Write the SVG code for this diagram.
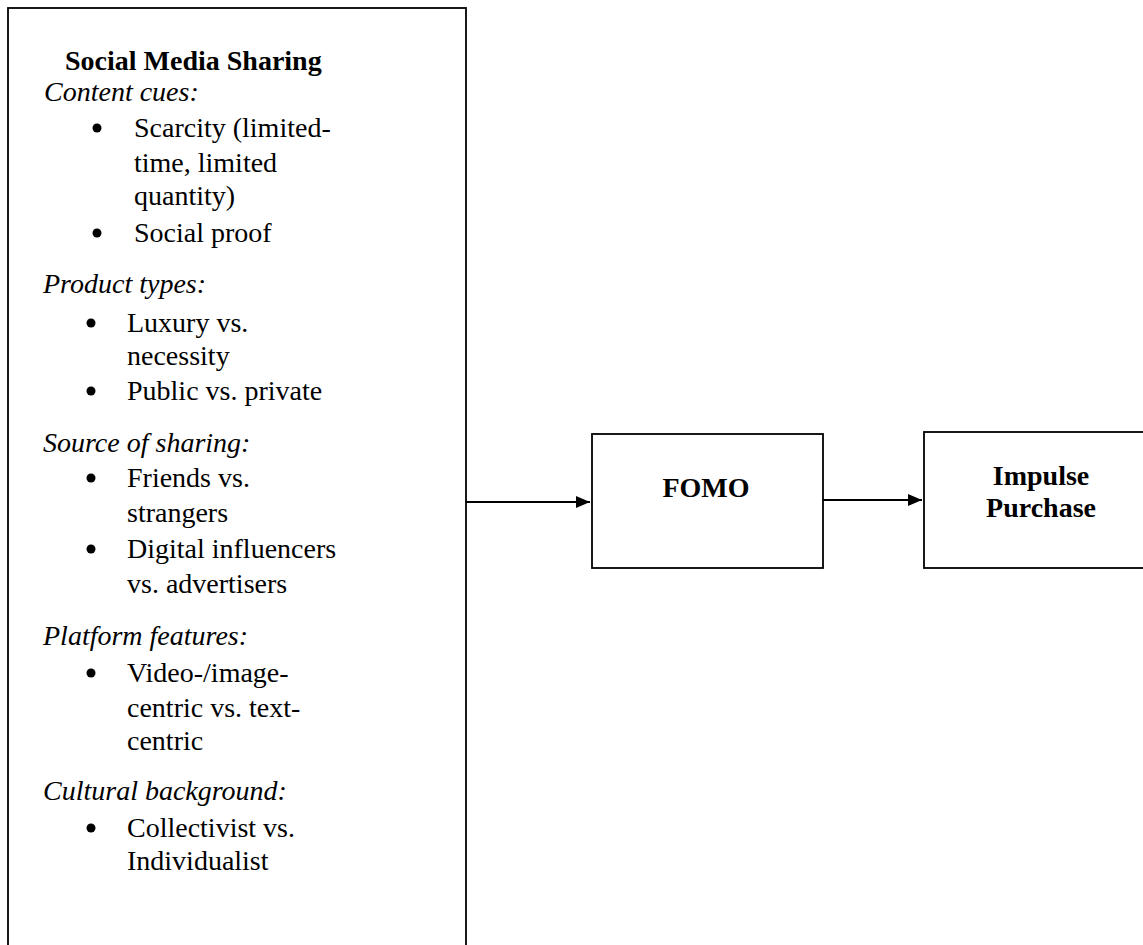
<svg xmlns="http://www.w3.org/2000/svg" width="1143" height="945" viewBox="0 0 1143 945">
<defs>
<style>
.box{fill:#fff;stroke:#000;stroke-width:1.8}
.t{font-family:"Liberation Serif","Times New Roman",serif;font-size:28px;fill:#000}
.b{font-weight:bold}
.i{font-style:italic}
.c{text-anchor:middle}
.ln{stroke:#000;stroke-width:1.8;fill:none}
</style>
<marker id="ah" viewBox="0 0 14 12" refX="14" refY="6" markerWidth="14" markerHeight="12" markerUnits="userSpaceOnUse" orient="auto">
<path d="M0,0 L14,6 L0,12 Z" fill="#000"/>
</marker>
</defs>
<rect width="1143" height="945" fill="#fff"/>
<g id="social-media-sharing">
<rect class="box" x="8" y="8" width="458" height="960"/>
<text class="t b" x="65" y="70">Social Media Sharing</text>
<text class="t i" x="44" y="101">Content cues:</text>
<circle cx="97" cy="128" r="4.5"/>
<text class="t" x="134" y="137">Scarcity (limited-</text>
<text class="t" x="134" y="172">time, limited</text>
<text class="t" x="134" y="205">quantity)</text>
<circle cx="97" cy="233" r="4.5"/>
<text class="t" x="134" y="242">Social proof</text>
<text class="t i" x="43" y="293">Product types:</text>
<circle cx="91" cy="323" r="4.5"/>
<text class="t" x="127" y="332">Luxury vs.</text>
<text class="t" x="127" y="365">necessity</text>
<circle cx="91" cy="391" r="4.5"/>
<text class="t" x="127" y="400">Public vs. private</text>
<text class="t i" x="43" y="452">Source of sharing:</text>
<circle cx="91" cy="478" r="4.5"/>
<text class="t" x="127" y="487">Friends vs.</text>
<text class="t" x="127" y="522">strangers</text>
<circle cx="91" cy="549" r="4.5"/>
<text class="t" x="127" y="558">Digital influencers</text>
<text class="t" x="127" y="593">vs. advertisers</text>
<text class="t i" x="43" y="645">Platform features:</text>
<circle cx="91" cy="673" r="4.5"/>
<text class="t" x="127" y="682">Video-/image-</text>
<text class="t" x="127" y="717">centric vs. text-</text>
<text class="t" x="127" y="750">centric</text>
<text class="t i" x="43" y="800">Cultural background:</text>
<circle cx="91" cy="828" r="4.5"/>
<text class="t" x="127" y="837">Collectivist vs.</text>
<text class="t" x="127" y="870">Individualist</text>
</g>
<g id="fomo">
<rect class="box" x="592" y="434" width="231" height="134"/>
<text class="t b c" x="706" y="497">FOMO</text>
</g>
<g id="impulse-purchase">
<rect class="box" x="924" y="432" width="240" height="136"/>
<text class="t b c" x="1041" y="485">Impulse</text>
<text class="t b c" x="1041" y="517">Purchase</text>
</g>
<g id="connectors">
<line class="ln" x1="466" y1="502" x2="590" y2="502" marker-end="url(#ah)"/>
<line class="ln" x1="823" y1="500" x2="922" y2="500" marker-end="url(#ah)"/>
</g>
</svg>
